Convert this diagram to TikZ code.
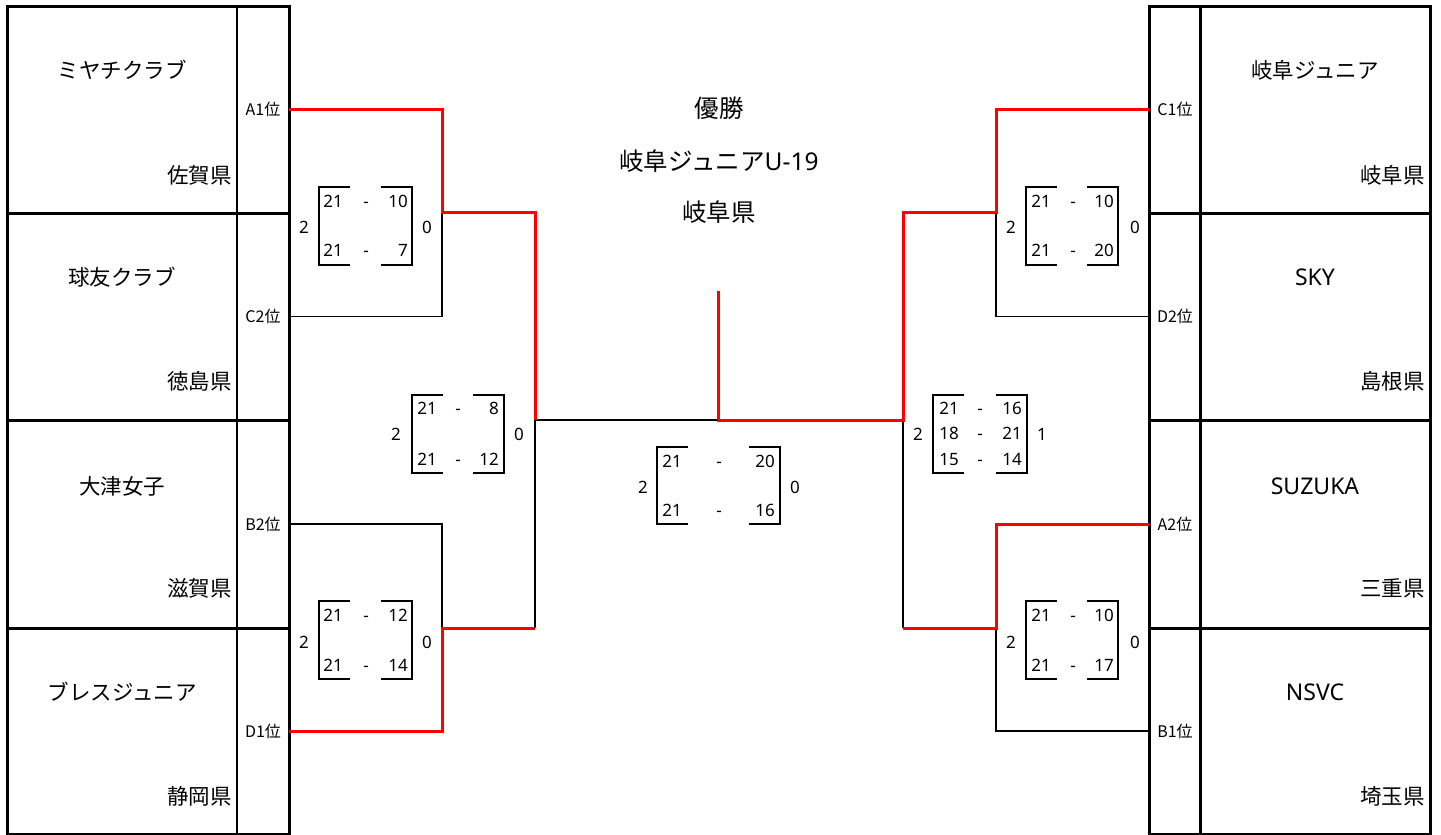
\documentclass[tikz,border=0pt]{standalone}
\usepackage{fontspec}
\setmainfont{Noto Sans CJK JP}
\newfontfamily\latinfont{Noto Sans}
\newcommand\scoreframe[1]{%
  \draw[brk] ([xshift=31pt]#1.north west) -- (#1.north west) -- (#1.south west) -- ([xshift=31pt]#1.south west);
  \draw[brk] ([xshift=-31pt]#1.north east) -- (#1.north east) -- (#1.south east) -- ([xshift=-31pt]#1.south east);}
\begin{document}
\begin{tikzpicture}[x=1pt,y=-1pt,
  cell/.style={draw,line width=2pt,inner sep=0pt,outer sep=0pt},
  lab/.style={cell,minimum width=52pt,minimum height=207pt,font=\fontsize{16}{18}\selectfont},
  team/.style={cell,minimum width=230pt,minimum height=207pt},
  tname/.style={inner sep=0pt,font=\fontsize{21.5}{25}\selectfont},
  tlat/.style={inner sep=0pt,font=\latinfont\fontsize{23}{26}\selectfont},
  title/.style={inner sep=0pt,font=\fontsize{24.5}{28}\selectfont},
  sc/.style={inner sep=0pt,font=\latinfont\fontsize{17}{19}\selectfont,text height=12pt,text depth=0pt},
  sbox/.style={inner sep=0pt,outer sep=0pt},
  brk/.style={line width=2pt,line join=miter},
  win/.style={red,line width=3pt,line join=miter},
  lose/.style={black,line width=1.5pt,line join=miter}]
\useasboundingbox (0,0) rectangle (1441,835);
% ---------- left team cells ----------
\node[team] (tl1) at (122,109.5) {};
\node[team] (tl2) at (122,316.5) {};
\node[team] (tl3) at (122,524) {};
\node[team] (tl4) at (122,731) {};
\node[lab] (la1) at (263,109.5) {A1位};
\node[lab] (lc2) at (263,316.5) {C2位};
\node[lab] (lb2) at (263,524) {B2位};
\node[lab] (ld1) at (263,731) {D1位};
\draw[line width=3pt] (7,6) rectangle (289,834);
\foreach \yy in {213,420,628} \draw[line width=3pt] (7,\yy) -- (289,\yy);
\node[tname] (n1) at (122,70) {ミヤチクラブ};
\node[tname,anchor=east] (p1) at (232,175) {佐賀県};
\node[tname] (n2) at (122,277) {球友クラブ};
\node[tname,anchor=east] (p2) at (232,381) {徳島県};
\node[tname] (n3) at (122,486) {大津女子};
\node[tname,anchor=east] (p3) at (232,588) {滋賀県};
\node[tname] (n4) at (122,692) {ブレスジュニア};
\node[tname,anchor=east] (p4) at (232,796) {静岡県};
% ---------- right team cells ----------
\node[lab] (rc1) at (1175,109.5) {C1位};
\node[lab] (rd2) at (1175,316.5) {D2位};
\node[lab] (ra2) at (1175,524) {A2位};
\node[lab] (rb1) at (1175,731) {B1位};
\node[team] (tr1) at (1315,109.5) {};
\node[team] (tr2) at (1315,316.5) {};
\node[team] (tr3) at (1315,524) {};
\node[team] (tr4) at (1315,731) {};
\draw[line width=3pt] (1149,6) rectangle (1430,834);
\foreach \yy in {213,420,628} \draw[line width=3pt] (1149,\yy) -- (1430,\yy);
\node[tname] (n5) at (1315,70) {岐阜ジュニア};
\node[tname,anchor=east] (p5) at (1425,175) {岐阜県};
\node[tlat] (n6) at (1315,277) {SKY};
\node[tname,anchor=east] (p6) at (1425,381) {島根県};
\node[tlat] (n7) at (1315,486) {SUZUKA};
\node[tname,anchor=east] (p7) at (1425,588) {三重県};
\node[tlat] (n8) at (1315,692) {NSVC};
\node[tname,anchor=east] (p8) at (1425,796) {埼玉県};
% ---------- champion ----------
\node[title] (w1) at (719,108) {優勝};
\node[title] (w2) at (719,161) {岐阜ジュニア{\latinfont U-19}};
\node[title] (w3) at (719,212) {岐阜県};
% ---------- junction coordinates ----------
\coordinate (j1) at (442,212);
\coordinate (s1) at (535,212);
\coordinate (j2) at (442,628);
\coordinate (s2) at (535,628);
\coordinate (f1) at (535,420);
\coordinate (c) at (718,420);
\coordinate (top) at (718,291);
\coordinate (f2) at (903,420);
\coordinate (j3) at (996,212);
\coordinate (s3) at (903,212);
\coordinate (j4) at (996,628);
\coordinate (s4) at (903,628);
% ---------- connectors ----------
\draw[lose] (lc2.east) -| (j1);
\draw[lose] (lb2.east) -| (j2);
\draw[lose] (s2) -- (f1);
\draw[lose] (f1) -- (c);
\draw[lose] (rd2.west) -| (j3);
\draw[lose] (rb1.west) -| (j4);
\draw[lose] (s4) -- (f2);
\draw[win] (la1.east) -| (j1) -- (s1) -- (f1);
\draw[win] (ld1.east) -| (j2) -- (s2);
\draw[win] (top) -- (c) -- (f2) -- (s3) -- (j3) |- (rc1.west);
\draw[win] (s4) -- (j4) |- (ra2.west);
% ---------- score boxes ----------
% left top
\node[sbox,minimum width=93pt,minimum height=78pt] (b1) at (365.5,226) {};
\scoreframe{b1}
\node[sc] (b1l1) at (333,201) {21}; \node[sc] (b1d1) at (366,201) {-}; \node[sc,anchor=east] (b1r1) at (408,201) {10};
\node[sc] (b1l2) at (333,250) {21}; \node[sc] (b1d2) at (366,250) {-}; \node[sc,anchor=east] (b1r2) at (408,250) {7};
\node[sc] (b1a) at (304,227) {2}; \node[sc] (b1b) at (427,227) {0};
% left bottom
\node[sbox,minimum width=93pt,minimum height=78pt] (b2) at (365.5,640) {};
\scoreframe{b2}
\node[sc] (b2l1) at (333,615) {21}; \node[sc] (b2d1) at (366,615) {-}; \node[sc,anchor=east] (b2r1) at (408,615) {12};
\node[sc] (b2l2) at (333,665) {21}; \node[sc] (b2d2) at (366,665) {-}; \node[sc,anchor=east] (b2r2) at (408,665) {14};
\node[sc] (b2a) at (304,642) {2}; \node[sc] (b2b) at (427,642) {0};
% left semi
\node[sbox,minimum width=92pt,minimum height=78pt] (b3) at (458,434) {};
\scoreframe{b3}
\node[sc] (b3l1) at (427,408) {21}; \node[sc] (b3d1) at (458,408) {-}; \node[sc,anchor=east] (b3r1) at (499,408) {8};
\node[sc] (b3l2) at (427,459) {21}; \node[sc] (b3d2) at (458,459) {-}; \node[sc,anchor=east] (b3r2) at (499,459) {12};
\node[sc] (b3a) at (396,434) {2}; \node[sc] (b3b) at (519,434) {0};
% final
\node[sbox,minimum width=123pt,minimum height=77pt] (b4) at (718.5,485.5) {};
\scoreframe{b4}
\node[sc] (b4l1) at (672,461) {21}; \node[sc] (b4d1) at (719,461) {-}; \node[sc,anchor=east] (b4r1) at (775,461) {20};
\node[sc] (b4l2) at (672,510) {21}; \node[sc] (b4d2) at (719,510) {-}; \node[sc,anchor=east] (b4r2) at (775,510) {16};
\node[sc] (b4a) at (643,487) {2}; \node[sc] (b4b) at (795,487) {0};
% right semi
\node[sbox,minimum width=94pt,minimum height=78pt] (b5) at (980,434) {};
\scoreframe{b5}
\node[sc] (b5l1) at (949,408) {21}; \node[sc] (b5d1) at (980,408) {-}; \node[sc,anchor=east] (b5r1) at (1022,408) {16};
\node[sc] (b5l2) at (949,433) {18}; \node[sc] (b5d2) at (980,433) {-}; \node[sc,anchor=east] (b5r2) at (1022,433) {21};
\node[sc] (b5l3) at (949,459) {15}; \node[sc] (b5d3) at (980,459) {-}; \node[sc,anchor=east] (b5r3) at (1022,459) {14};
\node[sc] (b5a) at (918,434) {2}; \node[sc] (b5b) at (1042,434) {1};
% right top
\node[sbox,minimum width=92pt,minimum height=78pt] (b6) at (1072,226) {};
\scoreframe{b6}
\node[sc] (b6l1) at (1041,201) {21}; \node[sc] (b6d1) at (1073,201) {-}; \node[sc,anchor=east] (b6r1) at (1114,201) {10};
\node[sc] (b6l2) at (1041,250) {21}; \node[sc] (b6d2) at (1073,250) {-}; \node[sc,anchor=east] (b6r2) at (1114,250) {20};
\node[sc] (b6a) at (1011,227) {2}; \node[sc] (b6b) at (1135,227) {0};
% right bottom
\node[sbox,minimum width=92pt,minimum height=78pt] (b7) at (1072,640) {};
\scoreframe{b7}
\node[sc] (b7l1) at (1041,615) {21}; \node[sc] (b7d1) at (1073,615) {-}; \node[sc,anchor=east] (b7r1) at (1114,615) {10};
\node[sc] (b7l2) at (1041,665) {21}; \node[sc] (b7d2) at (1073,665) {-}; \node[sc,anchor=east] (b7r2) at (1114,665) {17};
\node[sc] (b7a) at (1011,642) {2}; \node[sc] (b7b) at (1135,642) {0};
\end{tikzpicture}
\end{document}
